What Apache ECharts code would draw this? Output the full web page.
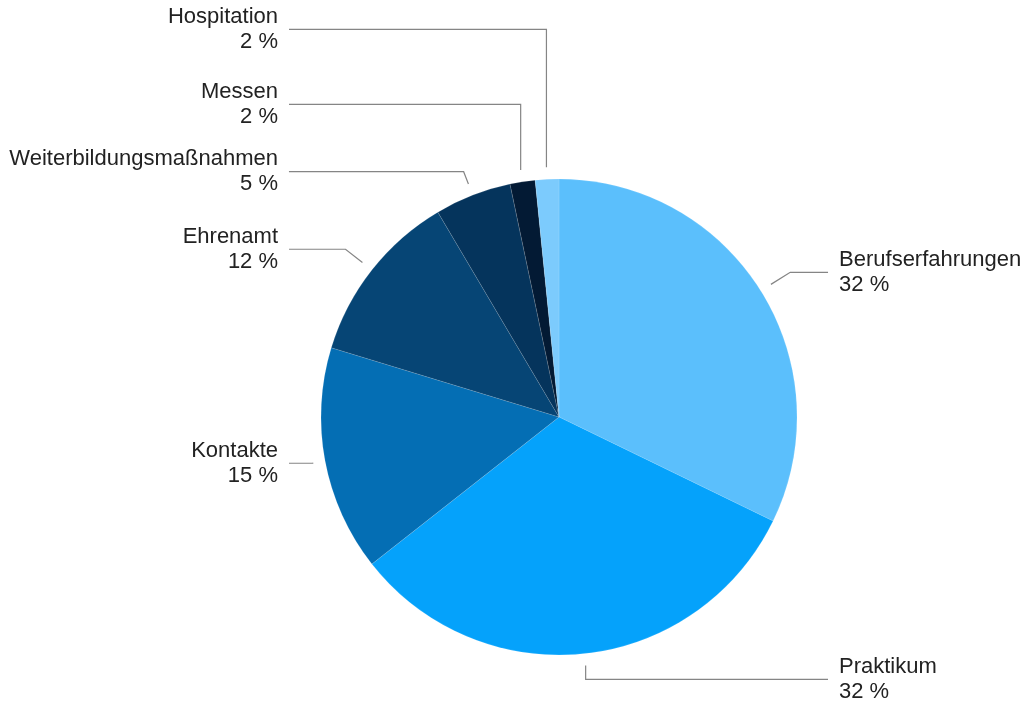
<!DOCTYPE html>
<html>
<head>
<meta charset="utf-8">
<style>
  html, body { margin: 0; padding: 0; background: #ffffff; }
  #chart { width: 1026px; height: 704px; }
</style>
<script src="https://cdn.jsdelivr.net/npm/echarts@6/dist/echarts.min.js"></script>
</head>
<body>
<div id="chart"></div>
<script>
// ---- data ----
const categories = ['Berufserfahrungen', 'Praktikum', 'Kontakte', 'Ehrenamt', 'Weiterbildungsmaßnahmen', 'Messen', 'Hospitation'];
const shares = [32.2, 32.2, 15.3, 11.8, 5.2, 1.7, 1.6];

// ---- styles ----
const sliceColors = ['#5BBFFC', '#05A2FB', '#046EB4', '#064575', '#05345C', '#031A34', '#7CCBFD'];
const leaderLen = [22.8, 13.8, 1, 21.5, 13.2, 66.4, 138.2];
const leaderLen2 = [37.8, 240.9, 23.3, 56.5, 174.7, 221.5, 250.5];

const chart = echarts.init(document.getElementById('chart'), null, { renderer: 'canvas' });

const pieData = categories.map((name, i) => ({
  name: name,
  value: shares[i],
  itemStyle: { color: sliceColors[i] }
}));

const labelData = categories.map((name, i) => ({
  name: name,
  value: shares[i],
  labelLine: { length: leaderLen[i], length2: leaderLen2[i] }
}));

const center = [559, 417];

chart.setOption({
  animation: false,
  backgroundColor: '#ffffff',
  series: [
    {
      type: 'pie',
      center: center,
      radius: 238,
      startAngle: 90,
      clockwise: true,
      avoidLabelOverlap: false,
      silent: true,
      label: { show: false },
      labelLine: { show: false },
      itemStyle: { borderColor: 'rgba(255,255,255,0.2)', borderWidth: 0.6 },
      emphasis: { disabled: true },
      data: pieData
    },
    {
      type: 'pie',
      center: center,
      radius: 250,
      startAngle: 90,
      clockwise: true,
      avoidLabelOverlap: false,
      silent: true,
      z: 3,
      itemStyle: { color: 'rgba(0,0,0,0)' },
      emphasis: { disabled: true },
      label: {
        show: true,
        position: 'outside',
        overflow: 'none',
        distanceToLabelLine: 11,
        color: '#222222',
        fontFamily: 'Liberation Sans, Arial, sans-serif',
        fontSize: 22,
        lineHeight: 24.5,
        padding: [4, 0, 0, 0],
        formatter: (p) => p.name + '\n' + Math.round(p.value) + ' %'
      },
      labelLine: {
        show: true,
        smooth: false,
        lineStyle: { color: '#858585', width: 1.2 }
      },
      labelLayout: function (params) {
        const pts = params.labelLinePoints;
        if (!pts || pts.length < 3) return {};
        const p0 = pts[0], p1 = pts[1];
        if (Math.abs(p1[0] - p0[0]) < 0.25 * Math.abs(p1[1] - p0[1])) {
          return { labelLinePoints: [p0, [p0[0], p1[1]], pts[2]] };
        }
        return {};
      },
      data: labelData
    }
  ]
});
</script>
</body>
</html>
